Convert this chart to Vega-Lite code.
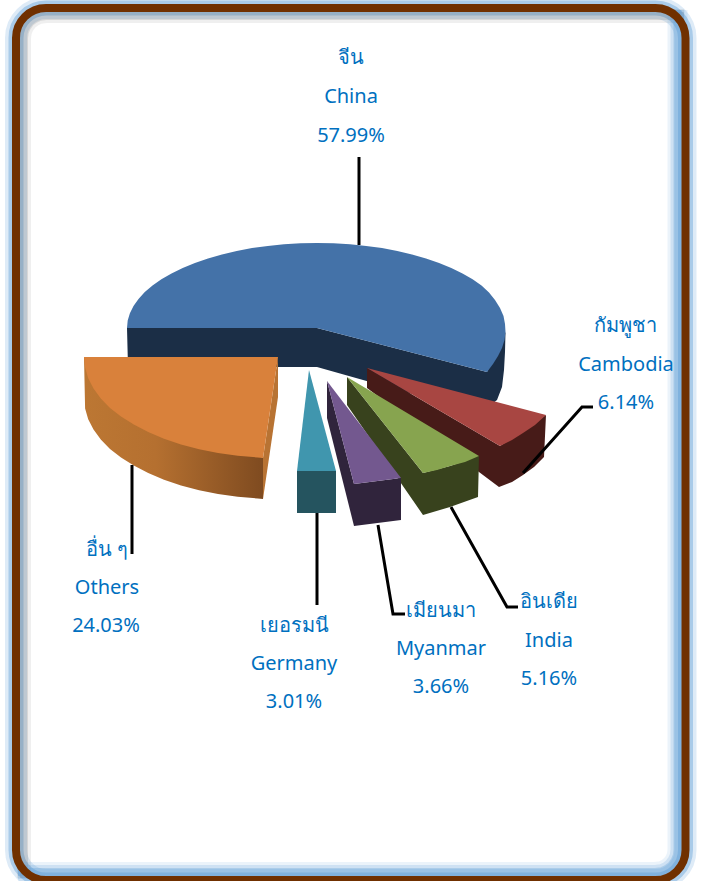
{
"$schema":"https://vega.github.io/schema/vega-lite/v6.json",
"width":701,"height":881,"padding":0,
"autosize":{"type":"none"},
"background":"white",
"config":{"view":{"stroke":null}},
"datasets":{
"frame":[{"x0":16,"x1":685.5,"y0":8,"y1":880}],
"labels":[
{"country":"China","line":1,"text":"จีน","cx":351,"cy":56},
{"country":"China","line":2,"text":"China","cx":351,"cy":95},
{"country":"China","line":3,"text":"57.99%","cx":351,"cy":134},
{"country":"Cambodia","line":1,"text":"กัมพูชา","cx":625,"cy":324},
{"country":"Cambodia","line":2,"text":"Cambodia","cx":626,"cy":363},
{"country":"Cambodia","line":3,"text":"6.14%","cx":626,"cy":401},
{"country":"Others","line":1,"text":"อื่น ๆ","cx":107,"cy":548},
{"country":"Others","line":2,"text":"Others","cx":107,"cy":586},
{"country":"Others","line":3,"text":"24.03%","cx":106,"cy":624},
{"country":"Germany","line":1,"text":"เยอรมนี","cx":294,"cy":624},
{"country":"Germany","line":2,"text":"Germany","cx":294,"cy":662},
{"country":"Germany","line":3,"text":"3.01%","cx":294,"cy":700},
{"country":"Myanmar","line":1,"text":"เมียนมา","cx":441,"cy":609},
{"country":"Myanmar","line":2,"text":"Myanmar","cx":441,"cy":647},
{"country":"Myanmar","line":3,"text":"3.66%","cx":441,"cy":685},
{"country":"India","line":1,"text":"อินเดีย","cx":549,"cy":600},
{"country":"India","line":2,"text":"India","cx":549,"cy":639},
{"country":"India","line":3,"text":"5.16%","cx":549,"cy":677}
]
},
"data":{"values":[
{"p":"shade","i":1,"x":24,"y":878},{"p":"shade","i":2,"x":24,"y":38},{"p":"shade","i":3,"x":24.7,"y":32.3},{"p":"shade","i":4,"x":27,"y":27},{"p":"shade","i":5,"x":30.4,"y":22.4},{"p":"shade","i":6,"x":35,"y":19},{"p":"shade","i":7,"x":40.3,"y":16.7},{"p":"shade","i":8,"x":46,"y":16},{"p":"shade","i":9,"x":684,"y":16},
{"p":"blue","i":1,"x":677.5,"y":10},{"p":"blue","i":2,"x":677.5,"y":850},{"p":"blue","i":3,"x":676.8,"y":855.7},{"p":"blue","i":4,"x":674.5,"y":861},{"p":"blue","i":5,"x":671,"y":865.6},{"p":"blue","i":6,"x":666.5,"y":869},{"p":"blue","i":7,"x":661.2,"y":871.3},{"p":"blue","i":8,"x":655.5,"y":872},{"p":"blue","i":9,"x":18,"y":872},
{"p":"cside","i":1,"x":127,"y":328},{"p":"cside","i":2,"x":317,"y":328},{"p":"cside","i":3,"x":487,"y":372},{"p":"cside","i":4,"x":505.5,"y":332},{"p":"cside","i":5,"x":505,"y":352},{"p":"cside","i":6,"x":504,"y":370},{"p":"cside","i":7,"x":502,"y":387},{"p":"cside","i":8,"x":497,"y":400},{"p":"cside","i":9,"x":480,"y":413},{"p":"cside","i":10,"x":317,"y":367},{"p":"cside","i":11,"x":128,"y":367},
{"p":"ctop","i":1,"x":317,"y":328},{"p":"ctop","i":2,"x":127,"y":328},{"p":"ctop","i":3,"x":127.7,"y":320.6},{"p":"ctop","i":4,"x":129.9,"y":313.2},{"p":"ctop","i":5,"x":133.5,"y":306},{"p":"ctop","i":6,"x":138.5,"y":299},{"p":"ctop","i":7,"x":144.8,"y":292},{"p":"ctop","i":8,"x":152.5,"y":285.5},{"p":"ctop","i":9,"x":161.4,"y":279.2},{"p":"ctop","i":10,"x":171.5,"y":273.4},{"p":"ctop","i":11,"x":182.7,"y":267.9},{"p":"ctop","i":12,"x":194.9,"y":262.9},{"p":"ctop","i":13,"x":208,"y":258.4},{"p":"ctop","i":14,"x":222,"y":254.4},{"p":"ctop","i":15,"x":236.7,"y":251},{"p":"ctop","i":16,"x":252,"y":248.1},{"p":"ctop","i":17,"x":267.8,"y":245.9},{"p":"ctop","i":18,"x":284,"y":244.3},{"p":"ctop","i":19,"x":300.5,"y":243.3},{"p":"ctop","i":20,"x":317,"y":243},{"p":"ctop","i":21,"x":333.5,"y":243.3},{"p":"ctop","i":22,"x":350,"y":244.3},{"p":"ctop","i":23,"x":366.2,"y":245.9},{"p":"ctop","i":24,"x":382,"y":248.1},{"p":"ctop","i":25,"x":397.3,"y":251},{"p":"ctop","i":26,"x":412,"y":254.4},{"p":"ctop","i":27,"x":426,"y":258.4},{"p":"ctop","i":28,"x":439.1,"y":262.9},{"p":"ctop","i":29,"x":451.3,"y":267.9},{"p":"ctop","i":30,"x":462.5,"y":273.4},{"p":"ctop","i":31,"x":472.6,"y":279.2},{"p":"ctop","i":32,"x":481.5,"y":285.5},{"p":"ctop","i":33,"x":489,"y":292.5},{"p":"ctop","i":34,"x":495,"y":300},{"p":"ctop","i":35,"x":500,"y":308},{"p":"ctop","i":36,"x":503.5,"y":316},{"p":"ctop","i":37,"x":505,"y":324},{"p":"ctop","i":38,"x":505.5,"y":332},{"p":"ctop","i":39,"x":504.5,"y":340},{"p":"ctop","i":40,"x":502,"y":348},{"p":"ctop","i":41,"x":498,"y":356},{"p":"ctop","i":42,"x":493,"y":364},{"p":"ctop","i":43,"x":487,"y":372},
{"p":"oside","i":1,"x":84,"y":357},{"p":"oside","i":2,"x":85.1,"y":408.6},{"p":"oside","i":3,"x":88.2,"y":419.2},{"p":"oside","i":4,"x":93.5,"y":429.5},{"p":"oside","i":5,"x":100.8,"y":439.5},{"p":"oside","i":6,"x":110,"y":449},{"p":"oside","i":7,"x":121,"y":457.4},{"p":"oside","i":8,"x":133.8,"y":465.6},{"p":"oside","i":9,"x":148.2,"y":473},{"p":"oside","i":10,"x":164,"y":479.7},{"p":"oside","i":11,"x":181,"y":485.5},{"p":"oside","i":12,"x":199.1,"y":490.3},{"p":"oside","i":13,"x":218,"y":494},{"p":"oside","i":14,"x":237.7,"y":496.8},{"p":"oside","i":15,"x":257.7,"y":498.5},{"p":"oside","i":16,"x":263,"y":499},{"p":"oside","i":17,"x":263,"y":458},
{"p":"oright","i":1,"x":278,"y":357},{"p":"oright","i":2,"x":263,"y":458},{"p":"oright","i":3,"x":263,"y":499},{"p":"oright","i":4,"x":278,"y":397},
{"p":"otop","i":1,"x":278,"y":357},{"p":"otop","i":2,"x":84,"y":357},{"p":"otop","i":3,"x":85.1,"y":367.6},{"p":"otop","i":4,"x":88.2,"y":378.2},{"p":"otop","i":5,"x":93.5,"y":388.5},{"p":"otop","i":6,"x":100.8,"y":398.5},{"p":"otop","i":7,"x":110,"y":408},{"p":"otop","i":8,"x":121,"y":416.4},{"p":"otop","i":9,"x":133.8,"y":424.6},{"p":"otop","i":10,"x":148.2,"y":432},{"p":"otop","i":11,"x":164,"y":438.7},{"p":"otop","i":12,"x":181,"y":444.5},{"p":"otop","i":13,"x":199.1,"y":449.3},{"p":"otop","i":14,"x":218,"y":453},{"p":"otop","i":15,"x":237.7,"y":455.8},{"p":"otop","i":16,"x":257.7,"y":457.5},{"p":"otop","i":17,"x":263,"y":458},
{"p":"gside","i":1,"x":297,"y":471},{"p":"gside","i":2,"x":336,"y":471},{"p":"gside","i":3,"x":336,"y":513},{"p":"gside","i":4,"x":297,"y":513},
{"p":"gtop","i":1,"x":309,"y":370},{"p":"gtop","i":2,"x":297,"y":471},{"p":"gtop","i":3,"x":336,"y":471},
{"p":"mside","i":1,"x":327,"y":381},{"p":"mside","i":2,"x":354,"y":484},{"p":"mside","i":3,"x":401,"y":478},{"p":"mside","i":4,"x":401,"y":520},{"p":"mside","i":5,"x":354,"y":526},{"p":"mside","i":6,"x":327,"y":418},
{"p":"mtop","i":1,"x":327,"y":381},{"p":"mtop","i":2,"x":354,"y":484},{"p":"mtop","i":3,"x":401,"y":478},
{"p":"iside","i":1,"x":347,"y":377},{"p":"iside","i":2,"x":423,"y":473},{"p":"iside","i":3,"x":450,"y":466},{"p":"iside","i":4,"x":479,"y":456},{"p":"iside","i":5,"x":478,"y":497},{"p":"iside","i":6,"x":450,"y":507},{"p":"iside","i":7,"x":423,"y":515},{"p":"iside","i":8,"x":347,"y":405},
{"p":"itop","i":1,"x":347,"y":377},{"p":"itop","i":2,"x":423,"y":473},{"p":"itop","i":3,"x":437,"y":470},{"p":"itop","i":4,"x":450,"y":466},{"p":"itop","i":5,"x":465,"y":462},{"p":"itop","i":6,"x":479,"y":456},
{"p":"rside","i":1,"x":367,"y":368},{"p":"rside","i":2,"x":500,"y":446},{"p":"rside","i":3,"x":546,"y":415},{"p":"rside","i":4,"x":544,"y":457},{"p":"rside","i":5,"x":534,"y":467},{"p":"rside","i":6,"x":523,"y":475},{"p":"rside","i":7,"x":512,"y":482},{"p":"rside","i":8,"x":499,"y":487},{"p":"rside","i":9,"x":367,"y":388},
{"p":"rtop","i":1,"x":367,"y":368},{"p":"rtop","i":2,"x":500,"y":446},{"p":"rtop","i":3,"x":512,"y":440},{"p":"rtop","i":4,"x":523,"y":433},{"p":"rtop","i":5,"x":535,"y":425},{"p":"rtop","i":6,"x":546,"y":415},
{"p":"leadChina","i":1,"x":359,"y":157},{"p":"leadChina","i":2,"x":359,"y":245},
{"p":"leadCambodia","i":1,"x":523,"y":473},{"p":"leadCambodia","i":2,"x":582,"y":407},{"p":"leadCambodia","i":3,"x":593,"y":407},
{"p":"leadIndia","i":1,"x":451,"y":507},{"p":"leadIndia","i":2,"x":507,"y":607},{"p":"leadIndia","i":3,"x":518,"y":607},
{"p":"leadMyanmar","i":1,"x":378,"y":525},{"p":"leadMyanmar","i":2,"x":393,"y":614},{"p":"leadMyanmar","i":3,"x":405,"y":614},
{"p":"leadGermany","i":1,"x":317,"y":513},{"p":"leadGermany","i":2,"x":317,"y":605},
{"p":"leadOthers","i":1,"x":132,"y":465},{"p":"leadOthers","i":2,"x":132,"y":554}
]},
"encoding":{
"x":{"field":"x","type":"quantitative","axis":null,"scale":{"domain":[0,701],"nice":false,"zero":false}},
"y":{"field":"y","type":"quantitative","axis":null,"scale":{"domain":[881,0],"nice":false,"zero":false}},
"order":{"field":"i","type":"quantitative"}
},
"layer":[
{"data":{"name":"frame"},"mark":{"type":"rect","fill":null,"stroke":"#5b9bd5","strokeOpacity":0.2,"strokeWidth":22,"cornerRadius":30},
 "encoding":{"order":null,"x":{"field":"x0","type":"quantitative"},"x2":{"field":"x1"},"y":{"field":"y0","type":"quantitative"},"y2":{"field":"y1"}}},
{"data":{"name":"frame"},"mark":{"type":"rect","fill":null,"stroke":"#5b9bd5","strokeOpacity":0.4,"strokeWidth":15,"cornerRadius":30},
 "encoding":{"order":null,"x":{"field":"x0","type":"quantitative"},"x2":{"field":"x1"},"y":{"field":"y0","type":"quantitative"},"y2":{"field":"y1"}}},
{"transform":[{"filter":"datum.p==='shade'"}],"mark":{"type":"line","stroke":"#606060","strokeOpacity":0.1,"strokeWidth":14,"strokeJoin":"round"}},
{"transform":[{"filter":"datum.p==='shade'"}],"mark":{"type":"line","stroke":"#606060","strokeOpacity":0.16,"strokeWidth":8,"strokeJoin":"round"}},
{"transform":[{"filter":"datum.p==='blue'"}],"mark":{"type":"line","stroke":"#5b9bd5","strokeOpacity":0.12,"strokeWidth":20,"strokeJoin":"round"}},
{"transform":[{"filter":"datum.p==='blue'"}],"mark":{"type":"line","stroke":"#5b9bd5","strokeOpacity":0.2,"strokeWidth":14,"strokeJoin":"round"}},
{"transform":[{"filter":"datum.p==='blue'"}],"mark":{"type":"line","stroke":"#5b9bd5","strokeOpacity":0.3,"strokeWidth":8,"strokeJoin":"round"}},
{"data":{"name":"frame"},"mark":{"type":"rect","fill":null,"stroke":"#703000","strokeWidth":8,"cornerRadius":30},
 "encoding":{"order":null,"x":{"field":"x0","type":"quantitative"},"x2":{"field":"x1"},"y":{"field":"y0","type":"quantitative"},"y2":{"field":"y1"}}},
{"transform":[{"filter":"datum.p==='cside'"}],"mark":{"type":"line","fill":"#1b2e46","stroke":null}},
{"transform":[{"filter":"datum.p==='ctop'"}],"mark":{"type":"line","fill":"#4472a8","stroke":null}},
{"transform":[{"filter":"datum.p==='rside'"}],"mark":{"type":"line","fill":"#471b18","stroke":null}},
{"transform":[{"filter":"datum.p==='rtop'"}],"mark":{"type":"line","fill":"#a84642","stroke":null}},
{"transform":[{"filter":"datum.p==='iside'"}],"mark":{"type":"line","fill":"#38421d","stroke":null}},
{"transform":[{"filter":"datum.p==='itop'"}],"mark":{"type":"line","fill":"#87a44f","stroke":null}},
{"transform":[{"filter":"datum.p==='mside'"}],"mark":{"type":"line","fill":"#30243c","stroke":null}},
{"transform":[{"filter":"datum.p==='mtop'"}],"mark":{"type":"line","fill":"#73588f","stroke":null}},
{"transform":[{"filter":"datum.p==='gside'"}],"mark":{"type":"line","fill":"#25545f","stroke":null}},
{"transform":[{"filter":"datum.p==='gtop'"}],"mark":{"type":"line","fill":"#4096ae","stroke":null}},
{"transform":[{"filter":"datum.p==='oright'"}],"mark":{"type":"line","fill":"#b87333","stroke":null}},
{"transform":[{"filter":"datum.p==='oside'"}],"mark":{"type":"line","stroke":null,"fill":{"gradient":"linear","x1":0,"y1":0,"x2":1,"y2":0,"stops":[{"offset":0,"color":"#bc7733"},{"offset":0.4,"color":"#b57030"},{"offset":1,"color":"#7f4b20"}]}}},
{"transform":[{"filter":"datum.p==='otop'"}],"mark":{"type":"line","fill":"#d9813b","stroke":null}},
{"transform":[{"filter":"indexof(datum.p,'lead')===0"}],"mark":{"type":"line","stroke":"black","strokeWidth":3,"strokeCap":"butt"},"encoding":{"detail":{"field":"p"}}},
{"data":{"name":"labels"},"mark":{"type":"text","color":"#0070c0","font":"Noto Sans","fontSize":20,"align":"center","baseline":"middle","dy":1.5},
 "encoding":{"order":null,"x":{"field":"cx","type":"quantitative"},"y":{"field":"cy","type":"quantitative"},"text":{"field":"text"}}}
]
}
